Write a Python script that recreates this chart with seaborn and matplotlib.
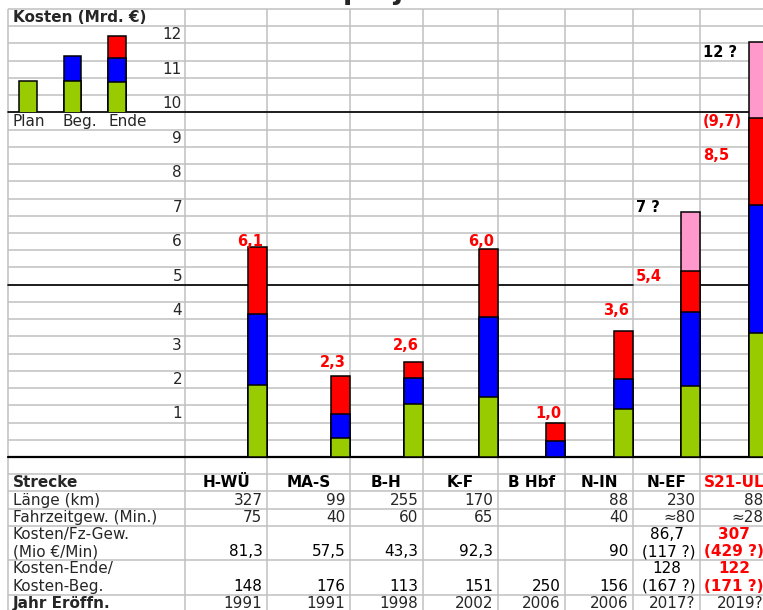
import numpy as np
import pandas as pd
import matplotlib
matplotlib.use("Agg")
import matplotlib.pyplot as plt
import seaborn as sns

# ---------------- data ----------------
strecke = ["H-WÜ", "MA-S", "B-H", "K-F", "B Hbf", "N-IN", "N-EF", "S21-UL"]
plan = [2.1, 0.55, 1.55, 1.75, 0.0, 1.4, 2.05, 3.6]          # green
mehr_beginn = [2.05, 0.7, 0.75, 2.3, 0.45, 0.85, 2.15, 3.7]   # blue
mehr_ende = [1.95, 1.1, 0.45, 2.0, 0.55, 1.4, 1.2, 2.55]      # red
unsicher = [0.0, 0.0, 0.0, 0.0, 0.0, 0.0, 1.7, 2.2]           # pink

bar_labels = ["6,1", "2,3", "2,6", "6,0", "1,0", "3,6"]
extra_labels_nef = [("5,4", "red"), ("7 ?", "black")]
extra_labels_s21 = [("8,5", "red"), ("(9,7)", "red"), ("12 ?", "black")]

legend_cats = ["Plan", "Beg.", "Ende"]
legend_plan = [10.9, 10.9, 10.88]
legend_beg = [0.0, 0.74, 0.7]
legend_ende = [0.0, 0.0, 0.64]

y_ticks = [1, 2, 3, 4, 5, 6, 7, 8, 9, 10, 11, 12]

laenge = ["327", "99", "255", "170", "", "88", "230", "88"]
fahrzeit = ["75", "40", "60", "65", "", "40", "≈80", "≈28"]
kosten_fz_oben = ["", "", "", "", "", "", "86,7", "307"]
kosten_fz = ["81,3", "57,5", "43,3", "92,3", "", "90", "(117 ?)", "(429 ?)"]
verh_oben = ["", "", "", "", "", "", "128", "122"]
verh = ["148", "176", "113", "151", "250", "156", "(167 ?)", "(171 ?)"]
jahr = ["1991", "1991", "1998", "2002", "2006", "2006", "2017?", "2019?"]

# ---------------- layout ----------------
W, H = 763, 610
PPU = 34.46          # pixels per unit (Mrd. €)
ZERO = 457.0         # pixel row of value 0
Y_TOP = ZERO / PPU
Y_BOT = (ZERO - H) / PPU
COL_EDGES = np.array([8, 185, 267, 350, 423, 498, 565, 633, 700, 768])
BAR_W = 19.5
GRID = "#C0C0C0"
COLORS = {"plan": "#99CC00", "beg": "#0000FF", "ende": "#FF0000", "uns": "#FF99CC"}
FS = 11


def py(v):
    return ZERO - v * PPU


sns.set_theme(style="white")
plt.rcParams["font.family"] = ["DejaVu Sans"]

fig = plt.figure(figsize=(W / 100, H / 100), dpi=100)
fig.patch.set_facecolor("white")
ax = fig.add_axes([0, 0, 1, 1])

col_right = COL_EDGES[2:]
col_left = COL_EDGES[1:-1]
col_center = (col_left + col_right) / 2
bar_x = col_right - BAR_W / 2

# ---------------- stacked bars (seaborn) ----------------
seg = pd.DataFrame({"strecke": strecke, "x": bar_x, "plan": plan, "beg": mehr_beginn,
                    "ende": mehr_ende, "uns": unsicher})
cum = seg[["plan", "beg", "ende", "uns"]].cumsum(axis=1)


def layer(col):
    mask = seg[col] > 0
    xs = seg.loc[mask, "x"].to_numpy()
    ys = cum.loc[mask, col].to_numpy()
    nw = np.min(np.diff(np.sort(xs))) if len(xs) > 1 else 1.0
    sns.barplot(x=xs, y=ys, native_scale=True, orient="x", width=BAR_W / nw,
                color=COLORS[col], saturation=1, edgecolor="black", linewidth=1.1,
                errorbar=None, ax=ax, zorder=3)


for col in ["uns", "ende", "beg", "plan"]:
    layer(col)

ax.set_xlim(0, W)
ax.set_ylim(Y_BOT, Y_TOP)
ax.axis("off")

# ---------------- spreadsheet grid ----------------
xl, xr = COL_EDGES[0], W
for h in np.arange(0.5, 13.01, 0.5):
    ax.plot([xl, xr], [h, h], color=GRID, lw=1.1, zorder=1, solid_capstyle="butt")
for h in [-0.5, -1, -1.5, -2, -3, -4, -4.5]:
    ax.plot([xl, xr], [h, h], color=GRID, lw=1.1, zorder=1, solid_capstyle="butt")
for xe in COL_EDGES[:-1]:
    ax.plot([xe, xe], [-4.6, 13], color=GRID, lw=1.1, zorder=1, solid_capstyle="butt")

ax.plot([xl, xr], [0, 0], color="black", lw=1.6, zorder=2)
ax.plot([xl, xr], [10, 10], color="black", lw=1.2, zorder=2)
ax.plot([xl, COL_EDGES[7]], [5, 5], color="black", lw=1.2, zorder=2)
ax.plot([COL_EDGES[8], xr], [5, 5], color="black", lw=1.2, zorder=2)

# y labels
for t in y_ticks:
    ax.text(182, t + 0.25, str(t), ha="right", va="center", fontsize=FS, zorder=5)

# bar value labels
label_rows = [6, 2.5, 3, 6, 1, 4]
for i, s in enumerate(bar_labels):
    ax.text(col_right[i] - 4, label_rows[i] + 0.25, s, ha="right", va="center", color="red",
            fontweight="bold", fontsize=10.5, zorder=5)
for (s, c), row in zip(extra_labels_nef, [5, 7]):
    ax.text(COL_EDGES[7] + 3, row + 0.25, s, ha="left", va="center", color=c,
            fontweight="bold", fontsize=10.5, zorder=5)
for (s, c), row in zip(extra_labels_s21, [8.5, 9.5, 11.5]):
    ax.text(COL_EDGES[8] + 3, row + 0.25, s, ha="left", va="center", color=c,
            fontweight="bold", fontsize=10.5, zorder=5)

# cropped title (only descenders visible)
ax.text(342.5, (ZERO + 0.7) / PPU, "projekte", ha="left", va="baseline",
        fontsize=19.7, fontweight="bold", zorder=5)

# inset legend
ax.text(13, 12.75, "Kosten (Mrd. €)", ha="left", va="center", fontsize=FS,
        fontweight="bold", zorder=5)
for s, xx in zip(legend_cats, [13, 63, 108]):
    ax.text(xx, 9.75, s, ha="left", va="center", fontsize=FS, zorder=5)

axi = fig.add_axes([8 / W, (H - py(10)) / H, 177 / W, (py(10) - py(13)) / H])
axi.patch.set_alpha(0)
leg = pd.DataFrame({"cat": legend_cats, "plan": legend_plan, "beg": legend_beg, "ende": legend_ende})
leg_cum = leg[["plan", "beg", "ende"]].cumsum(axis=1)
for col in ["ende", "beg", "plan"]:
    m = (leg[col] > 0).to_numpy()
    sns.barplot(x=leg.loc[m, "cat"].to_list(), y=leg_cum.loc[m, col].to_numpy(),
                order=legend_cats, width=0.40, color=COLORS[col], saturation=1,
                edgecolor="black", linewidth=1.1, errorbar=None, ax=axi)
px_unit = 44.5
x0 = -20 / px_unit
axi.set_xlim(x0, x0 + 177 / px_unit)
axi.set_ylim(10, 13)
axi.axis("off")

# ---------------- table ----------------
row_defs = [("Strecke", -1.0, True), ("Länge (km)", -1.5, False),
            ("Fahrzeitgew. (Min.)", -2.0, False), ("Kosten/Fz-Gew.", -2.5, False),
            ("(Mio €/Min)", -3.0, False), ("Kosten-Ende/", -3.5, False),
            ("Kosten-Beg.", -4.0, False), ("Jahr Eröffn.", -4.5, True)]
for lab, rb, b in row_defs:
    ax.text(13, rb + 0.25, lab, ha="left", va="center", fontsize=FS,
            fontweight="bold" if b else "normal", zorder=5)

n = len(strecke)
for i in range(n):
    red = strecke[i] == "S21-UL"
    ax.text(col_center[i], -0.75, strecke[i], ha="center", va="center", fontsize=FS,
            fontweight="bold", color="red" if red else "black", zorder=5)
    xr_txt = col_right[i] - 4.5
    for vals, rb in [(laenge, -1.5), (fahrzeit, -2.0), (jahr, -4.5)]:
        ax.text(xr_txt, rb + 0.25, vals[i], ha="right", va="center", fontsize=FS, zorder=5)
    for vals, rb in [(kosten_fz, -3.0), (verh, -4.0)]:
        ax.text(xr_txt, rb + 0.25, vals[i], ha="right", va="center", fontsize=FS,
                fontweight="bold" if red else "normal", color="red" if red else "black", zorder=5)
    for vals, rb in [(kosten_fz_oben, -2.5), (verh_oben, -3.5)]:
        ax.text(col_center[i], rb + 0.25, vals[i], ha="center", va="center", fontsize=FS,
                fontweight="bold" if red else "normal", color="red" if red else "black", zorder=5)

fig.savefig("out.png", dpi=100)
